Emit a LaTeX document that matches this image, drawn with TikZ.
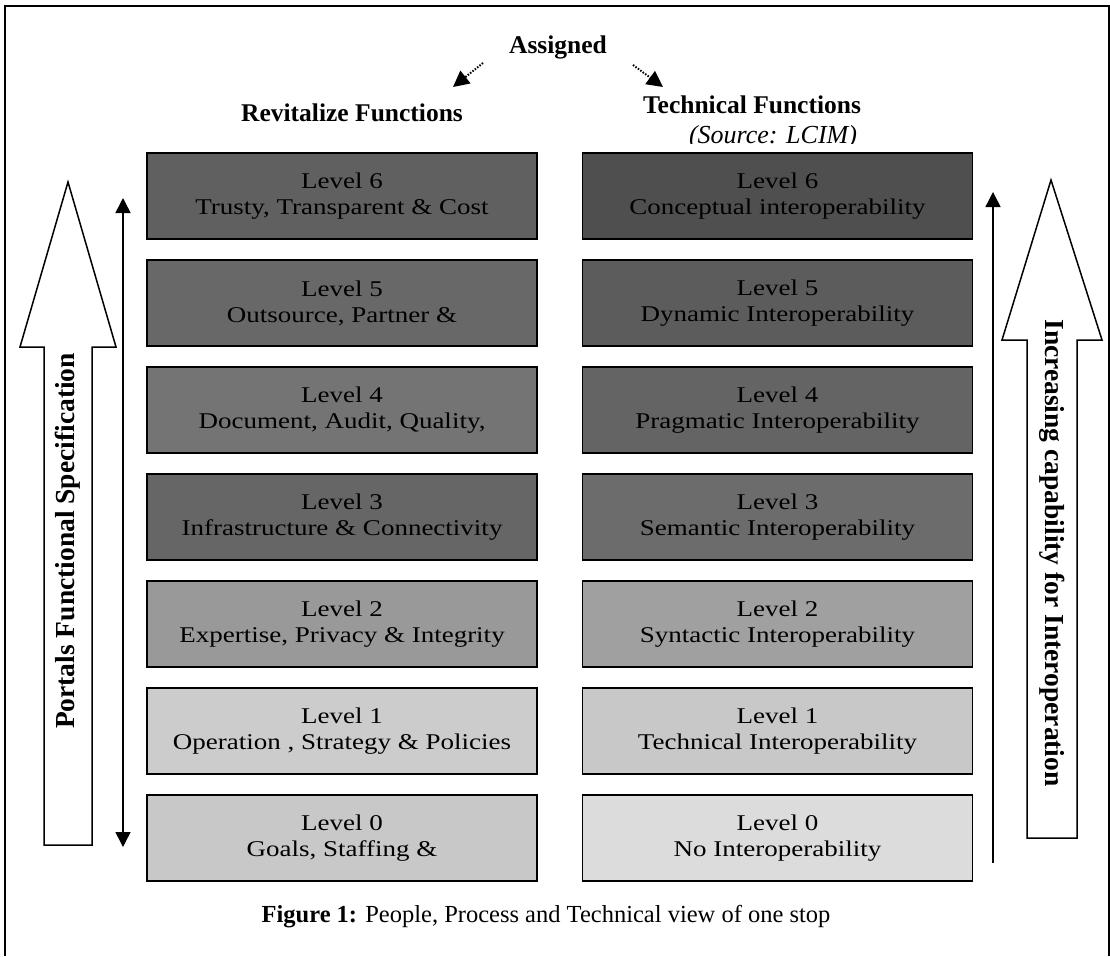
\documentclass[tikz,border=0pt]{standalone}
\usepackage{fontspec}
\setmainfont{Liberation Serif}
\newfontfamily\boxfont{Liberation Serif}[FakeStretch=1.2]
\usetikzlibrary{arrows.meta}

\begin{document}
\begin{tikzpicture}[x=1pt,y=-1pt,
  lvl/.style={draw=black, line width=1.5pt, minimum width=390pt, minimum height=86pt,
    inner sep=0pt, align=center, font=\boxfont\fontsize{22.5}{26}\selectfont},
  title/.style={font=\bfseries\fontsize{25.5}{29}\selectfont, inner sep=0pt},
  sidetext/.style={font=\bfseries\fontsize{27.5}{31}\selectfont, inner sep=0pt},
  hollow/.style={draw=black, line width=1.5pt, fill=white, line join=miter},
  thin/.style={line width=1.5pt, -{Triangle[length=15pt,width=15pt]}},
  assign/.style={line width=2pt, dash pattern=on 1.5pt off 1.5pt, -{Triangle[length=16pt,width=16pt]}}
]
\useasboundingbox (0,0) rectangle (1110,956);
\fill[white] (0,0) rectangle (1110,956);

% outer frame (open at the bottom)
\draw[line width=1.5pt] (5,956) -- (5,6) -- (1109,6) -- (1109,956);

% headings
\node[title] (assigned) at (558,47) {Assigned};
\node[title] (revit) at (352,113) {Revitalize Functions};
\node[title] (tech) at (752,105) {Technical Functions};
\node[font=\itshape\fontsize{26}{29}\selectfont, inner sep=0pt] (source) at (773,137) {(Source: LCIM)};
% the source line is cut off by the level boxes' frame below it
\fill[white] (640,143.5) rectangle (900,152);

\coordinate (aL0) at (483,63);
\coordinate (aL1) at (453,87);
\coordinate (aR0) at (633,65);
\coordinate (aR1) at (663,87);
\draw[assign] (aL0) -- (aL1);
\draw[assign] (aR0) -- (aR1);

% left column: revitalize functions
\node[lvl, fill={rgb,255:red,96;green,96;blue,96}]    (l6) at (342,196) {Level 6\\Trusty, Transparent \& Cost};
\node[lvl, fill={rgb,255:red,104;green,104;blue,104}] (l5) at (342,303) {Level 5\\Outsource, Partner \&};
\node[lvl, fill={rgb,255:red,116;green,116;blue,116}] (l4) at (342,410) {Level 4\\Document, Audit, Quality,};
\node[lvl, fill={rgb,255:red,102;green,102;blue,102}] (l3) at (342,517) {Level 3\\Infrastructure \& Connectivity};
\node[lvl, fill={rgb,255:red,153;green,153;blue,153}] (l2) at (342,624) {Level 2\\Expertise, Privacy \& Integrity};
\node[lvl, fill={rgb,255:red,204;green,204;blue,204}] (l1) at (342,731) {Level 1\\Operation , Strategy \& Policies};
\node[lvl, fill={rgb,255:red,200;green,200;blue,200}] (l0) at (342,838) {Level 0\\Goals, Staffing \&};

% right column: technical functions
\node[lvl, fill={rgb,255:red,79;green,79;blue,79}]    (r6) at (777.5,196) {Level 6\\Conceptual interoperability};
\node[lvl, fill={rgb,255:red,92;green,92;blue,92}]    (r5) at (777.5,303) {Level 5\\Dynamic Interoperability};
\node[lvl, fill={rgb,255:red,100;green,100;blue,100}] (r4) at (777.5,410) {Level 4\\Pragmatic Interoperability};
\node[lvl, fill={rgb,255:red,108;green,108;blue,108}] (r3) at (777.5,517) {Level 3\\Semantic Interoperability};
\node[lvl, fill={rgb,255:red,160;green,160;blue,160}] (r2) at (777.5,624) {Level 2\\Syntactic Interoperability};
\node[lvl, fill={rgb,255:red,200;green,200;blue,200}] (r1) at (777.5,731) {Level 1\\Technical Interoperability};
\node[lvl, fill={rgb,255:red,220;green,220;blue,220}] (r0) at (777.5,838) {Level 0\\No Interoperability};

% left hollow arrow
\draw[hollow] (44,845) -- (44,347) -- (20,347) -- (68,182) -- (116,347) -- (92,347) -- (92,845) -- cycle;
\node[sidetext, rotate=90] (portals) at (68,541) {Portals Functional Specification};

% right hollow arrow
\draw[hollow] (1027,838) -- (1027,340) -- (1002,340) -- (1051,180) -- (1102,340) -- (1077,340) -- (1077,838) -- cycle;
\node[sidetext, rotate=-90] (increasing) at (1052,553) {Increasing capability for Interoperation};

% thin range arrows
\coordinate (lt) at (123,198);
\coordinate (lb) at (123,847);
\draw[thin, {Triangle[length=15pt,width=15pt]}-{Triangle[length=15pt,width=15pt]}] (lb) -- (lt);
\coordinate (rt) at (993,192);
\coordinate (rb) at (993,863);
\draw[thin] (rb) -- (rt);

% caption
\node[font=\fontsize{24.5}{28}\selectfont, inner sep=0pt] (caption) at (546,917) {\textbf{Figure 1:} People, Process and Technical view of one stop};
\end{tikzpicture}
\end{document}
